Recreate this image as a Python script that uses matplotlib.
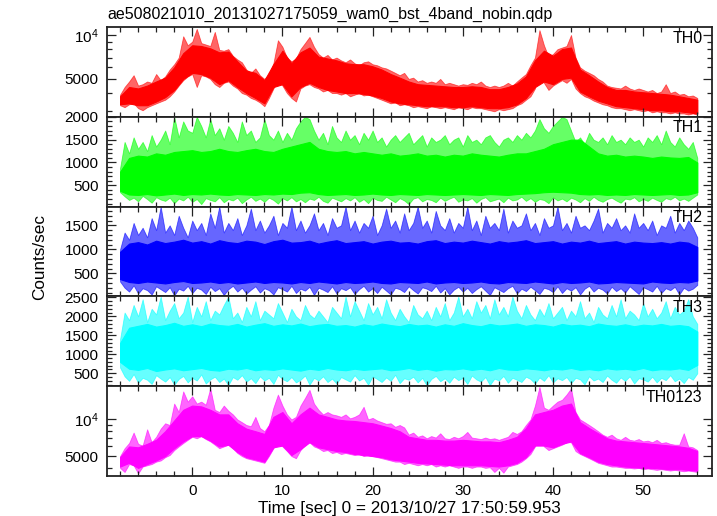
import numpy as np
import matplotlib
matplotlib.use("Agg")
import matplotlib.pyplot as plt
from matplotlib.ticker import MultipleLocator, LogLocator, FixedLocator, FixedFormatter, NullFormatter

plt.rcParams['font.family'] = ['Liberation Sans', 'DejaVu Sans']
plt.rcParams['mathtext.fontset'] = 'custom'
plt.rcParams['mathtext.rm'] = 'Liberation Sans'

TITLE = "ae508021010_20131027175059_wam0_bst_4band_nobin.qdp"
XLABEL = "Time [sec] 0 = 2013/10/27 17:50:59.953"
YLABEL = "Counts/sec"
PANEL_NAMES = ["TH0", "TH1", "TH2", "TH3", "TH0123"]

# time grids (sec): extremes per 0.5 s bin, typical (core) band per 1 s bin
TIME = np.arange(-8.0, 56.01, 0.5)
TIME_CORE = np.arange(-8.0, 56.01, 1.0)

# ---- TH0 ----
TH0_LO = [3300, 3200, 3350, 3400, 3150, 3050, 3200, 3300, 3400, 3500,
          3600, 3800, 4100, 4500, 4900, 5200, 5400, 4400, 5300, 5200,
          5000, 4600, 4400, 4700, 4800, 4500, 4300, 4000, 3900, 3700,
          3600, 3450, 3250, 3700, 4300, 4900, 4500, 4000, 3700, 3500,
          4300, 4500, 4600, 4400, 4300, 4100, 4200, 4000, 4000, 3900,
          4000, 3800, 3900, 4000, 3850, 3900, 3800, 3700, 3600, 3500,
          3400, 3450, 3300, 3350, 3300, 3200, 3250, 3200, 3150, 3250,
          3200, 3150, 3200, 3150, 3100, 3200, 3150, 3100, 3200, 3150,
          3150, 3100, 3050, 3000, 3100, 3050, 3100, 3150, 3300, 3400,
          3600, 3800, 4300, 5500, 4700, 4200, 4500, 4700, 4900, 4700,
          5000, 4300, 4000, 3800, 3700, 3550, 3450, 3350, 3300, 3200,
          3150, 3150, 3100, 3050, 3100, 3050, 3000, 3050, 2950, 3000,
          2950, 2950, 2900, 2950, 2900, 2900, 2850, 2900, 2850]
TH0_HI = [3900, 4400, 4800, 5300, 4500, 4600, 4800, 4700, 5400, 4900,
          5200, 5800, 6300, 7000, 9800, 8500, 9000, 11000, 8800, 8600,
          8400, 10500, 7900, 7800, 8000, 7200, 6800, 6500, 5800, 5500,
          5900, 5300, 5000, 5400, 6400, 9200, 8300, 7000, 6600, 6900,
          8000, 8800, 9700, 8300, 7400, 7000, 7300, 6800, 7000, 6700,
          6500, 6800, 6400, 6200, 6500, 6600, 6300, 6200, 6000, 5900,
          5700, 5500, 5300, 5500, 5000, 5100, 4800, 4900, 4700, 4800,
          4700, 5000, 4600, 4700, 4600, 4500, 4600, 4550, 4700, 4600,
          4800, 4500, 4400, 4500, 4400, 4500, 4700, 4500, 4800, 5100,
          5400, 6200, 7000, 10800, 8500, 7100, 7400, 8000, 8200, 8400,
          10000, 7000, 6000, 5700, 5500, 5300, 5000, 4800, 4500, 4400,
          4350, 4300, 4500, 4300, 4200, 4300, 4200, 4100, 4200, 4000,
          4100, 4600, 4000, 4100, 3900, 3950, 3800, 3850, 3700]
TH0_CORE_LO = [3350, 3400, 3300, 3300, 3500, 3750, 4200, 5000, 5500, 5400,
               5100, 4600, 4900, 4400, 4000, 3700, 3400, 4400, 4600, 3800,
               4400, 4700, 4400, 4200, 4100, 4000, 4000, 3950, 3850, 3700,
               3500, 3400, 3350, 3300, 3250, 3250, 3250, 3200, 3200, 3250,
               3200, 3150, 3150, 3200, 3350, 3700, 4400, 4800, 4600, 5000,
               5100, 4100, 3800, 3550, 3400, 3250, 3200, 3150, 3100, 3050,
               3050, 3000, 3000, 2950, 2900]
TH0_CORE_HI = [3800, 4400, 4300, 4500, 4800, 5100, 6000, 7500, 8500, 8400,
               8100, 7600, 7700, 6600, 5700, 5500, 4900, 6300, 7800, 6400,
               7600, 8200, 7100, 6900, 6700, 6400, 6300, 6300, 6100, 5800,
               5400, 5100, 4800, 4600, 4550, 4500, 4450, 4400, 4400, 4450,
               4400, 4250, 4250, 4400, 4650, 5200, 6700, 7800, 7200, 8000,
               8200, 5800, 5300, 4800, 4400, 4200, 4200, 4100, 4050, 4000,
               3950, 3900, 3800, 3700, 3600]

# ---- TH1 ----
TH1_LO = [350, 260, 180, 230, 150, 270, 200, 120, 240, 190,
          160, 230, 110, 210, 170, 250, 140, 200, 90, 220,
          180, 150, 240, 130, 200, 170, 230, 110, 190, 250,
          160, 210, 140, 230, 180, 100, 220, 170, 240, 150,
          200, 130, 210, 180, 250, 160, 120, 230, 190, 150,
          220, 170, 240, 140, 200, 110, 230, 180, 160, 250,
          190, 130, 220, 170, 90, 210, 240, 150, 200, 180,
          130, 230, 160, 210, 250, 140, 190, 170, 220, 120,
          200, 240, 150, 180, 210, 130, 230, 170, 190, 250,
          160, 220, 140, 200, 180, 110, 240, 170, 210, 150,
          230, 190, 130, 220, 160, 250, 180, 140, 200, 230,
          170, 120, 210, 190, 240, 150, 200, 160, 230, 180,
          140, 220, 190, 250, 170, 210, 160, 230, 300]
TH1_HI = [880, 1450, 1200, 1550, 1300, 1450, 1250, 1600, 1350, 1500,
          1700, 1400, 2000, 1550, 1900, 1700, 1650, 2000, 1800, 1550,
          1950, 1600, 1750, 1500, 1800, 1650, 1450, 1900, 1600, 1700,
          1450, 1550, 1950, 1600, 1500, 1700, 1450, 1650, 1500, 1750,
          1900, 2000, 1950, 1700, 1500, 1650, 1400, 1800, 1550, 1450,
          1700, 1500, 1600, 1400, 1650, 1500, 1700, 1450, 1550, 1350,
          1500, 1600, 1450, 1550, 1650, 1400, 1500, 1600, 1350, 1550,
          1450, 1500, 1600, 1400, 1500, 1550, 1350, 1600, 1450, 1500,
          1400, 1550, 1600, 1450, 1350, 1500, 1550, 1450, 1600, 1500,
          1650, 1550, 1700, 1950, 1750, 1650, 1800, 1900, 2000, 1950,
          1700, 1450, 1550, 1400, 1650, 1500, 1450, 1550, 1400, 1600,
          1450, 1500, 1400, 1550, 1450, 1500, 1350, 1550, 1450, 1600,
          1400, 1700, 1450, 1350, 1550, 1400, 1300, 1450, 1100]
TH1_CORE_LO = [380, 300, 290, 310, 280, 300, 320, 290, 310, 300,
               320, 300, 290, 310, 300, 290, 310, 300, 320, 310,
               340, 350, 310, 290, 300, 310, 290, 300, 320, 300,
               290, 310, 300, 290, 310, 300, 290, 300, 310, 300,
               290, 310, 300, 290, 310, 320, 330, 350, 360, 350,
               340, 310, 300, 310, 290, 300, 290, 310, 300, 290,
               300, 310, 290, 300, 350]
TH1_CORE_HI = [800, 1100, 1150, 1130, 1200, 1170, 1230, 1250, 1270, 1230,
               1250, 1300, 1250, 1230, 1270, 1300, 1250, 1230, 1300, 1350,
               1400, 1450, 1300, 1250, 1230, 1250, 1200, 1230, 1200, 1170,
               1200, 1150, 1170, 1200, 1150, 1170, 1130, 1170, 1150, 1200,
               1170, 1150, 1130, 1170, 1200, 1200, 1250, 1300, 1400, 1450,
               1500, 1500, 1350, 1200, 1150, 1170, 1130, 1150, 1130, 1100,
               1130, 1110, 1100, 1120, 1000]

# ---- TH2 ----
TH2_LO = [330, 200, 120, 250, 80, 190, 150, 60, 230, 170,
          110, 210, 40, 180, 140, 240, 90, 200, 160, 70,
          220, 130, 190, 50, 170, 240, 120, 200, 80, 160,
          230, 100, 190, 150, 60, 210, 170, 120, 240, 90,
          180, 140, 220, 50, 200, 160, 110, 230, 80, 190,
          150, 210, 70, 170, 240, 120, 190, 90, 220, 140,
          60, 200, 170, 110, 230, 150, 80, 210, 180, 130,
          240, 100, 190, 60, 160, 220, 120, 200, 90, 170,
          230, 140, 50, 210, 160, 110, 190, 240, 80, 180,
          130, 220, 150, 70, 200, 170, 110, 230, 90, 190,
          140, 210, 60, 180, 240, 120, 200, 160, 80, 220,
          130, 190, 100, 230, 150, 70, 210, 170, 120, 240,
          90, 190, 150, 220, 60, 200, 140, 180, 260]
TH2_HI = [1000, 1350, 1200, 1550, 1300, 1450, 1250, 1650, 1400, 1890,
          1350, 1500, 1300, 1700, 1450, 1250, 1600, 1400, 1550, 1300,
          1750, 1450, 1890, 1350, 1550, 1400, 1650, 1300, 1500, 1850,
          1400, 1600, 1350, 1500, 1700, 1300, 1550, 1450, 1890, 1400,
          1600, 1350, 1500, 1750, 1400, 1550, 1300, 1650, 1450, 1500,
          1890, 1400, 1600, 1350, 1550, 1450, 1700, 1300, 1500, 1850,
          1450, 1600, 1350, 1750, 1400, 1550, 1890, 1450, 1600, 1350,
          1800, 1500, 1400, 1650, 1350, 1550, 1450, 1890, 1400, 1600,
          1300, 1700, 1450, 1550, 1400, 1850, 1350, 1600, 1450, 1500,
          1750, 1400, 1550, 1300, 1650, 1450, 1500, 1890, 1400, 1550,
          1350, 1700, 1450, 1500, 1400, 1600, 1850, 1350, 1550, 1450,
          1650, 1400, 1500, 1350, 1750, 1450, 1550, 1400, 1600, 1300,
          1500, 1450, 1700, 1350, 1550, 1400, 1600, 1450, 1250]
TH2_CORE_LO = [380, 320, 300, 330, 310, 290, 320, 340, 300, 310,
               330, 300, 320, 290, 310, 330, 300, 320, 310, 290,
               320, 300, 330, 310, 290, 320, 300, 310, 330, 300,
               290, 320, 310, 300, 330, 290, 310, 320, 300, 310,
               330, 300, 290, 320, 310, 300, 330, 310, 290, 320,
               300, 310, 330, 290, 300, 320, 310, 300, 290, 330,
               310, 300, 320, 310, 350]
TH2_CORE_HI = [950, 1120, 1150, 1100, 1180, 1130, 1160, 1200, 1140, 1170,
               1120, 1190, 1150, 1130, 1180, 1160, 1110, 1170, 1200, 1140,
               1150, 1180, 1120, 1160, 1190, 1130, 1150, 1170, 1120, 1160,
               1180, 1140, 1150, 1120, 1170, 1190, 1130, 1160, 1140, 1180,
               1150, 1120, 1170, 1140, 1160, 1190, 1130, 1150, 1170, 1120,
               1160, 1140, 1180, 1130, 1150, 1170, 1120, 1160, 1140, 1130,
               1150, 1120, 1160, 1140, 1050]

# ---- TH3 ----
TH3_LO = [650, 420, 300, 480, 250, 380, 330, 220, 450, 360,
          280, 400, 200, 350, 430, 260, 380, 310, 470, 230,
          340, 410, 270, 360, 190, 400, 330, 450, 280, 370,
          240, 420, 310, 380, 220, 460, 350, 290, 400, 260,
          330, 440, 200, 380, 310, 420, 270, 360, 230, 400,
          340, 280, 450, 310, 380, 200, 420, 350, 270, 390,
          300, 460, 240, 370, 330, 410, 260, 380, 180, 350,
          430, 290, 370, 250, 410, 320, 380, 220, 440, 340,
          280, 400, 190, 360, 310, 430, 250, 380, 330, 270,
          410, 350, 230, 390, 300, 450, 260, 370, 320, 400,
          240, 380, 340, 210, 420, 310, 360, 270, 440, 330,
          250, 390, 300, 420, 230, 370, 340, 280, 410, 260,
          380, 320, 450, 290, 360, 240, 400, 330, 500]
TH3_HI = [1400, 2100, 1900, 2300, 2000, 2450, 1850, 2200, 2050, 2520,
          1900, 2150, 2350, 1950, 2100, 2520, 1850, 2250, 2000, 2400,
          1900, 2150, 2050, 2300, 2520, 1950, 2100, 1850, 2250, 2000,
          2400, 1900, 2150, 2050, 1950, 2350, 2100, 1850, 2200, 2000,
          1900, 2300, 2050, 1950, 2150, 2000, 1850, 2250, 2100, 1950,
          2520, 2000, 2400, 2150, 1900, 2350, 2050, 2250, 1950, 2450,
          2100, 1900, 2200, 2000, 1850, 2300, 2050, 1950, 2150, 1900,
          2250, 2000, 2350, 1900, 2100, 2520, 2000, 2200, 1950, 2400,
          2100, 2300, 1950, 2450, 2050, 2250, 2000, 2520, 2150, 1950,
          2300, 2050, 1900, 2200, 2000, 2350, 1950, 2100, 2250, 1900,
          2150, 2000, 2400, 1950, 2100, 1850, 2250, 2050, 1950, 2300,
          2000, 2450, 1950, 2150, 2050, 1900, 2350, 2000, 2200, 1950,
          2100, 2400, 1950, 2250, 2050, 2150, 2450, 2000, 1800]
TH3_CORE_LO = [800, 620, 590, 640, 560, 600, 630, 580, 610, 640,
               590, 570, 620, 600, 640, 580, 610, 590, 630, 600,
               570, 620, 590, 640, 600, 580, 620, 590, 610, 630,
               580, 600, 640, 590, 620, 570, 610, 600, 630, 590,
               620, 580, 640, 600, 590, 630, 610, 580, 620, 600,
               640, 590, 610, 580, 630, 600, 620, 590, 640, 580,
               610, 600, 630, 590, 720]
TH3_CORE_HI = [1300, 1700, 1750, 1800, 1730, 1770, 1830, 1750, 1790, 1740,
               1810, 1770, 1750, 1800, 1730, 1780, 1820, 1750, 1790, 1760,
               1810, 1740, 1780, 1800, 1750, 1770, 1730, 1790, 1750, 1810,
               1770, 1740, 1800, 1760, 1780, 1730, 1790, 1750, 1820, 1770,
               1740, 1800, 1760, 1780, 1810, 1750, 1790, 1770, 1730, 1800,
               1760, 1780, 1740, 1810, 1770, 1750, 1790, 1740, 1780, 1760,
               1800, 1750, 1770, 1740, 1600]

# ---- TH0123 ----
TH0123_LO = [4000, 3700, 4300, 4200, 3600, 4100, 4200, 4300, 4500, 4600,
             4900, 5100, 5600, 6000, 6400, 6800, 7200, 7000, 7300, 6900,
             6600, 6200, 5800, 6000, 6200, 5800, 5300, 5000, 4800, 4700,
             4600, 4500, 4400, 5000, 5800, 6500, 6000, 5500, 5000, 4800,
             5600, 6200, 6500, 6000, 5800, 5500, 5600, 5300, 5400, 5200,
             5300, 5200, 5100, 5200, 5000, 5100, 5000, 4900, 4800, 4700,
             4600, 4500, 4500, 4300, 4400, 4300, 4200, 4300, 4200, 4300,
             4100, 4200, 4100, 4200, 4100, 4000, 4100, 4100, 4000, 4100,
             4100, 4000, 4050, 3700, 4000, 3650, 4100, 4200, 4300, 4500,
             4800, 5200, 6000, 7000, 6000, 5600, 5800, 6000, 6200, 6500,
             6500, 5500, 5200, 5000, 4800, 4600, 4400, 4300, 4200, 4100,
             4100, 4050, 4000, 4000, 3950, 4000, 3900, 3950, 3900, 3850,
             3900, 3850, 3800, 3850, 3800, 3750, 3800, 3750, 3700]
TH0123_HI = [5000, 5800, 6400, 7800, 6300, 6100, 8300, 6500, 7200, 8400,
             9300, 9000, 13500, 11500, 17000, 14000, 15500, 13500, 14000, 13200,
             18000, 12000, 11500, 13000, 11800, 11000, 10000, 9500, 9000, 8800,
             10500, 8500, 8000, 9000, 12500, 16000, 13000, 11000, 10000, 10500,
             13000, 15000, 17500, 13500, 12000, 11000, 11500, 11000, 10800, 10500,
             11000, 10200, 10500, 11000, 12700, 10000, 10300, 9800, 9500, 9200,
             9300, 8700, 9000, 8600, 7500, 7800, 7200, 7400, 7000, 7300,
             7100, 7700, 7000, 6900, 7200, 7000, 7300, 7900, 7100, 7000,
             6900, 7100, 6900, 7000, 6800, 7000, 7200, 7900, 7600, 8000,
             9000, 10000, 13000, 18500, 12500, 12000, 13000, 14000, 14500, 16000,
             18000, 11500, 10000, 9500, 9000, 8500, 8000, 7500, 7200, 7500,
             7000, 6800, 7200, 6800, 6700, 6900, 6600, 6700, 6500, 6800,
             6400, 6500, 6300, 6200, 6200, 7700, 6000, 5900, 5600]
TH0123_CORE_LO = [4100, 4400, 4000, 4300, 4600, 5000, 5800, 6600, 7300, 7300,
                  6700, 6000, 6200, 5400, 4900, 4700, 4500, 5900, 6100, 5100,
                  5700, 6500, 5900, 5700, 5500, 5400, 5200, 5100, 5000, 4900,
                  4700, 4600, 4500, 4400, 4350, 4300, 4250, 4200, 4200, 4200,
                  4200, 4150, 4100, 4200, 4400, 4900, 6100, 6100, 5900, 6300,
                  6600, 5300, 4900, 4500, 4300, 4200, 4100, 4050, 4000, 4000,
                  3950, 3900, 3900, 3850, 3800]
TH0123_CORE_HI = [4900, 6000, 5900, 6300, 6800, 8000, 9800, 12000, 13000, 12800,
                  12000, 11000, 11000, 9300, 8400, 8000, 7600, 10500, 11500, 9300,
                  11000, 12500, 11000, 10500, 10000, 9800, 9700, 9500, 9300, 8900,
                  8500, 8000, 7200, 7000, 6800, 6800, 6700, 6700, 6800, 6700,
                  6600, 6600, 6500, 6800, 7200, 8500, 11000, 11500, 12000, 13000,
                  13500, 9500, 8500, 7700, 7000, 6700, 6600, 6500, 6400, 6300,
                  6200, 6100, 6000, 5850, 5500]

COLORS = ["#ff0000", "#00ff00", "#0000ff", "#00ffff", "#ff00ff"]
SCALES = ["log", "linear", "linear", "linear", "log"]
YLIMS = [(2750, 11340), (35, 2000), (20, 1890), (160, 2525), (3430, 18750)]
LOWS = [TH0_LO, TH1_LO, TH2_LO, TH3_LO, TH0123_LO]
HIGHS = [TH0_HI, TH1_HI, TH2_HI, TH3_HI, TH0123_HI]
CORE_LOWS = [TH0_CORE_LO, TH1_CORE_LO, TH2_CORE_LO, TH3_CORE_LO, TH0123_CORE_LO]
CORE_HIGHS = [TH0_CORE_HI, TH1_CORE_HI, TH2_CORE_HI, TH3_CORE_HI, TH0123_CORE_HI]

W, H = 717, 516
fig = plt.figure(figsize=(W / 100, H / 100), dpi=100)
left = 107 / W
right = 711.7 / W
top = 1 - 27 / H
bottom = 1 - 476 / H
ph = (top - bottom) / 5
FS_TICK = 11
FS_TXT = 11.5
FS_LAB = 12.3

for i in range(5):
    ax = fig.add_axes([left, top - (i + 1) * ph, right - left, ph])
    c = COLORS[i]
    # extreme range (thin spikes -> lighter)
    ax.fill_between(TIME, LOWS[i], HIGHS[i], facecolor=c, edgecolor=c,
                    linewidth=0.6, alpha=0.6)
    # dense core of the light curve
    ax.fill_between(TIME_CORE, CORE_LOWS[i], CORE_HIGHS[i], facecolor=c,
                    edgecolor=c, linewidth=0.8)
    ax.set_xlim(-9.45, 57.6)
    ax.xaxis.set_major_locator(MultipleLocator(10))
    ax.xaxis.set_minor_locator(MultipleLocator(2))
    if SCALES[i] == "log":
        ax.set_yscale("log")
        ax.set_ylim(*YLIMS[i])
        ax.yaxis.set_major_locator(FixedLocator([5000, 10000]))
        ax.yaxis.set_major_formatter(FixedFormatter(["5000", r"$\mathregular{10^4}$"]))
        ax.yaxis.set_minor_locator(LogLocator(base=10, subs=np.arange(2, 10)))
        ax.yaxis.set_minor_formatter(NullFormatter())
    else:
        ax.set_ylim(*YLIMS[i])
        ax.yaxis.set_major_locator(MultipleLocator(500))
        ax.yaxis.set_minor_locator(MultipleLocator(100))
    ax.tick_params(which="both", direction="in", top=True, right=True,
                   labelsize=FS_TICK, color="#222222", width=0.9)
    ax.tick_params(which="major", length=6.5, pad=6)
    ax.tick_params(which="minor", length=3.5)
    if i < 4:
        ax.tick_params(axis="x", labelbottom=False)
    else:
        ax.tick_params(axis="x", pad=6)
    for s in ax.spines.values():
        s.set_linewidth(1.3)
        s.set_color("#222222")
    ax.text(0.985, 0.96, PANEL_NAMES[i], transform=ax.transAxes,
            ha="right", va="top", fontsize=FS_TXT)

fig.text(107 / W, 1 - 14 / H, TITLE, ha="left", va="center", fontsize=FS_TXT)
fig.text(40 / W, 1 - 257 / H, YLABEL, rotation=90, ha="center", va="center", fontsize=FS_LAB)
fig.text((left + right) / 2, 1 - 508 / H, XLABEL, ha="center", va="center", fontsize=FS_LAB)

fig.savefig("out.png", dpi=100)
